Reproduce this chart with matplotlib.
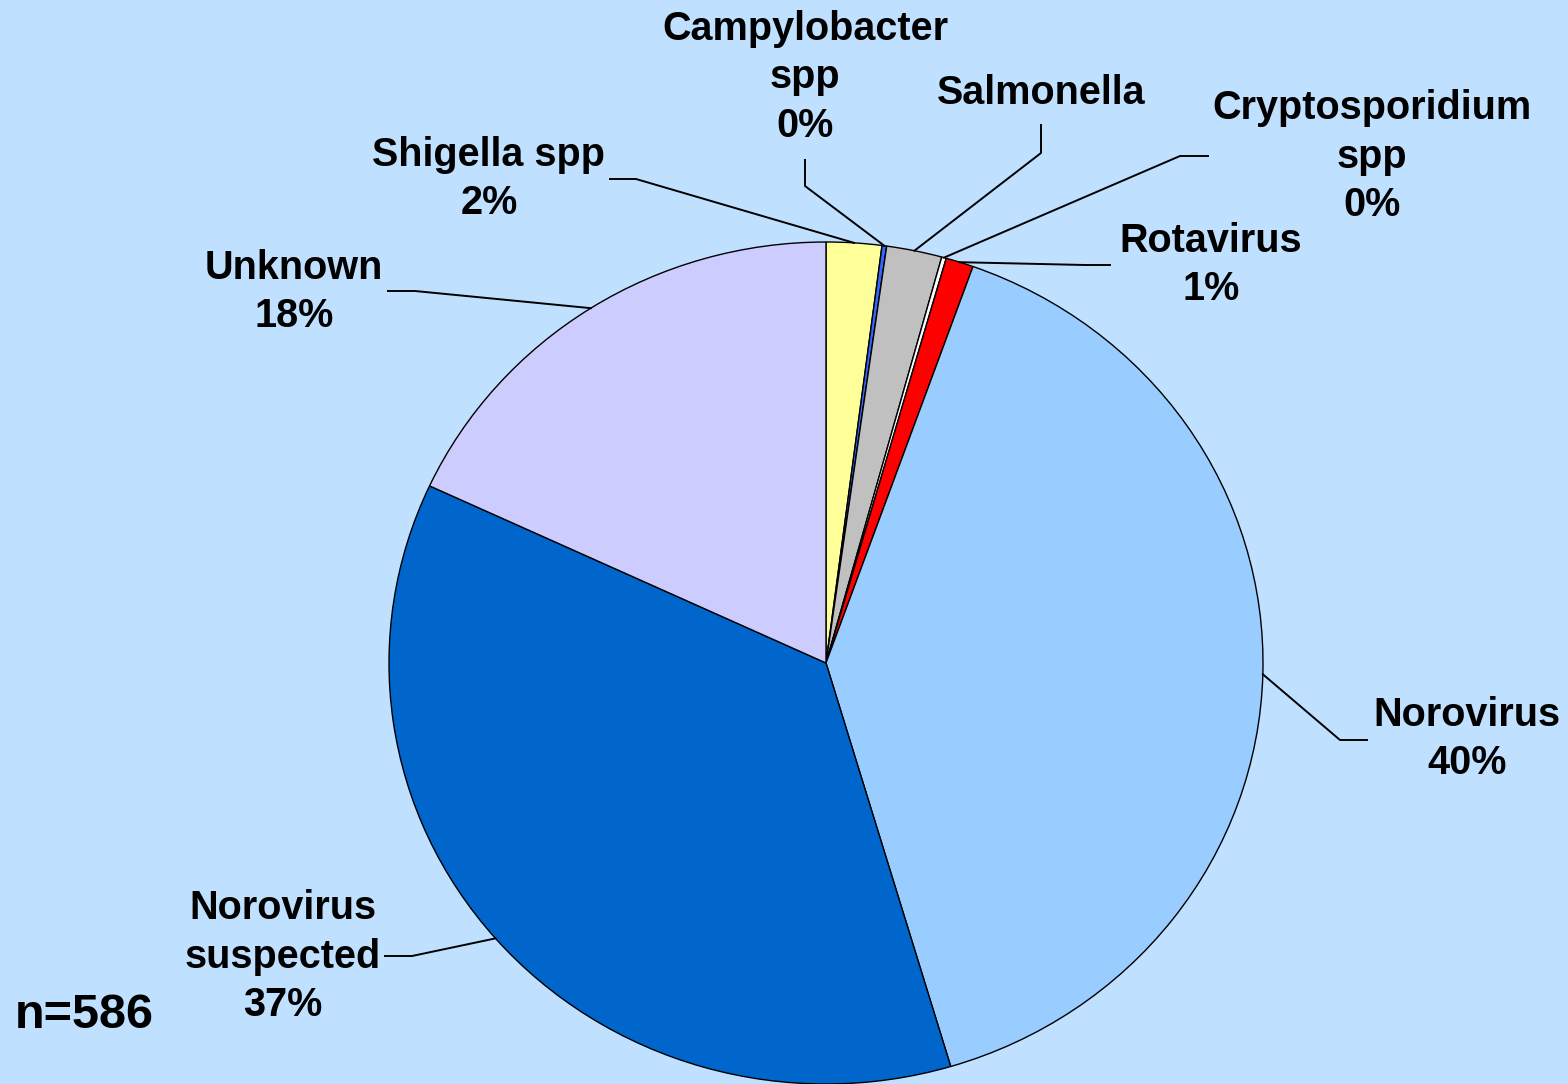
import numpy as np
import matplotlib.pyplot as plt

# outbreak counts by agent (n=586), clockwise from 12 o'clock
agents = ["Shigella spp", "Campylobacter\nspp", "Salmonella", "Cryptosporidium\nspp",
          "Rotavirus", "Norovirus", "Norovirus\nsuspected", "Unknown"]
counts = [12, 1, 12, 1, 6, 234, 214, 106]
show_pct = [True, True, False, True, True, True, True, True]
colors = ["#FFFF99", "#3366FF", "#C0C0C0", "#FFFFFF", "#FF0000",
          "#99CCFF", "#0066CC", "#CCCCFF"]

W, H = 1568, 1084
bg = "#C0E0FF"
fig = plt.figure(figsize=(W / 100, H / 100), dpi=100, facecolor=bg)

# pie box in pixels: centre (826, 663), rx 437, ry 421
cx, cy, rx, ry = 826, 663, 437, 421
pie_ax = fig.add_axes([(cx - rx) / W, 1 - (cy + ry) / H, 2 * rx / W, 2 * ry / H])
pie_ax.pie(counts, colors=colors, startangle=90, counterclock=False,
           wedgeprops=dict(edgecolor="black", linewidth=1.0))
pie_ax.set_aspect("auto")
pie_ax.set_xlim(-1, 1)
pie_ax.set_ylim(-1, 1)
pie_ax.axis("off")

# overlay in pixel coordinates for labels / leader lines
ov = fig.add_axes([0, 0, 1, 1], facecolor="none")
ov.set_xlim(0, W)
ov.set_ylim(H, 0)
ov.axis("off")

total = sum(counts)
cum = np.cumsum([0] + counts)
mid_deg = [(cum[i] + counts[i] / 2) / total * 360 for i in range(len(counts))]

# label layout: (elbow point, line end, text centre x, first line centre y)
layout = [
    ((636, 179), (610, 179), 489, 154),
    ((805, 186), (805, 160), 805, 28),
    ((1041, 153), (1041, 125), 1041, 93),
    ((1180, 156), (1208, 156), 1372, 107),
    ((1085, 265), (1110, 265), 1211, 240),
    ((1340, 740), (1367, 740), 1467, 714),
    ((412, 956), (385, 956), 283, 907),
    ((415, 291), (388, 291), 294, 267),
]
line_h = 49.5

font = dict(family=["Liberation Sans", "DejaVu Sans"], weight="bold", fontsize=28.5)
for i, name in enumerate(agents):
    th = np.deg2rad(mid_deg[i])
    ex = cx + rx * np.sin(th)
    ey = cy - ry * np.cos(th)
    (kx, ky), (lx, ly), tx, ty = layout[i]
    ov.plot([ex, kx, lx], [ey, ky, ly], color="black", lw=1.4)
    txt = name
    if show_pct[i]:
        txt += "\n%d%%" % round(counts[i] / total * 100)
    n_lines = txt.count("\n") + 1
    ov.text(tx, ty + (n_lines - 1) * line_h / 2, txt, ha="center", va="center",
            linespacing=1.34, **font)

ov.text(15, 1016, "n=%d" % total, ha="left", va="center",
        family=["Liberation Sans", "DejaVu Sans"], weight="bold", fontsize=35)

fig.savefig("out.png", dpi=100, facecolor=bg)
